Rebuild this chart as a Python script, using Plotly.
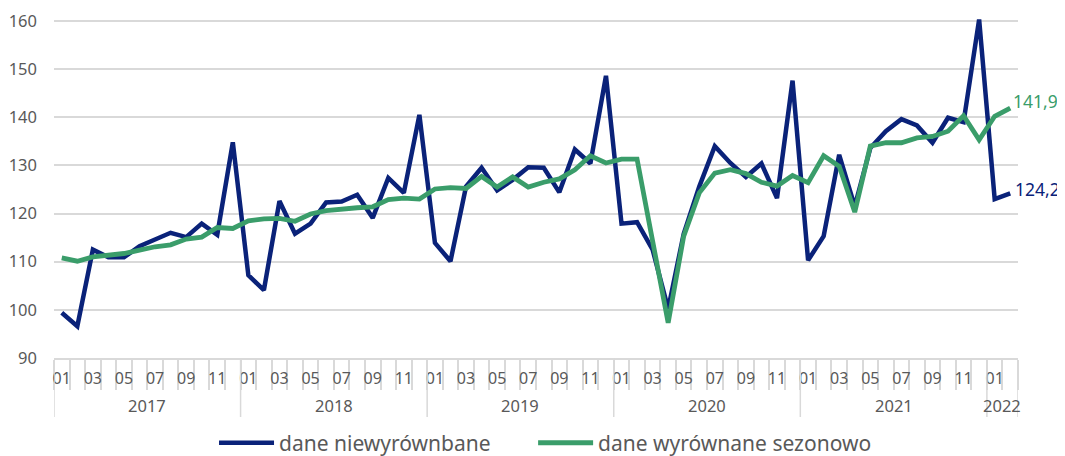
import plotly.graph_objects as go

# ---- data ----
years = [2017, 2018, 2019, 2020, 2021, 2022]
month_labels = ["01", "02", "03", "04", "05", "06", "07", "08", "09", "10", "11", "12"]
months_in_last_year = 2

niewyrownane = [
    99.4, 96.6, 112.5, 110.9, 110.9, 113.2, 114.6, 116.0, 115.1, 117.9, 115.6, 134.8,
    107.2, 104.1, 122.6, 115.8, 117.9, 122.3, 122.5, 123.9, 119.1, 127.4, 124.3, 140.5,
    113.9, 110.1, 125.6, 129.5, 124.8, 127.0, 129.6, 129.5, 124.4, 133.3, 130.4, 148.6,
    117.9, 118.2, 112.5, 100.2, 115.8, 125.6, 134.0, 130.5, 127.6, 130.4, 123.2, 147.6,
    110.3, 115.3, 132.2, 121.5, 133.6, 137.1, 139.6, 138.3, 134.7, 139.9, 139.0, 160.3,
    123.0, 124.2,
]
wyrownane = [
    110.8, 110.1, 111.0, 111.3, 111.7, 112.4, 113.1, 113.5, 114.7, 115.1, 117.1, 116.9,
    118.5, 118.9, 119.0, 118.4, 119.9, 120.6, 121.0, 121.2, 121.4, 122.9, 123.2, 123.0,
    125.1, 125.4, 125.2, 127.7, 125.5, 127.6, 125.5, 126.5, 127.2, 129.1, 132.0, 130.5,
    131.3, 131.3, 114.3, 97.3, 115.3, 124.3, 128.4, 129.1, 128.3, 126.5, 125.7, 127.9,
    126.4, 132.0, 129.8, 120.3, 134.0, 134.7, 134.7, 135.7, 136.0, 137.1, 140.3, 135.3,
    140.2, 141.9,
]
series_names = ["dane niewyrównbane", "dane wyrównane sezonowo"]
y_ticks = [90, 100, 110, 120, 130, 140, 150, 160]

# ---- styles ----
NAVY = "#0a2279"
GREEN = "#3a9d6a"
GRID = "#d9d9d9"
TXT = "#595959"
FONT = "Noto Sans"

# build period lists
period_year = []
period_month = []
for y in years:
    n = 12 if y != years[-1] else months_in_last_year
    for m in month_labels[:n]:
        period_year.append(y)
        period_month.append(m)
idx = list(range(len(period_month)))

fig = go.Figure()
fig.add_trace(go.Scatter(x=idx, y=niewyrownane, mode="lines", name=series_names[0],
                         line=dict(color=NAVY, width=4.5), legend="legend"))
fig.add_trace(go.Scatter(x=idx, y=wyrownane, mode="lines", name=series_names[1],
                         line=dict(color=GREEN, width=4.8), legend="legend2"))

# end labels
def fmt(v):
    return f"{v:.1f}".replace(".", ",")

fig.add_annotation(x=idx[-1], y=wyrownane[-1], text=fmt(wyrownane[-1]), showarrow=False,
                   xanchor="left", yanchor="middle", xshift=1, yshift=7,
                   font=dict(color=GREEN, size=17.5, family=FONT))
fig.add_annotation(x=idx[-1], y=niewyrownane[-1], text=fmt(niewyrownane[-1]), showarrow=False,
                   xanchor="left", yanchor="middle", xshift=3, yshift=4,
                   font=dict(color=NAVY, size=17.5, family=FONT))

# month tick labels (odd months)
tickvals = [i for i, m in zip(idx, period_month) if int(m) % 2 == 1]
ticktext = [period_month[i] for i in tickvals]
boundaries = [i - 0.5 for i in idx] + [idx[-1] + 0.5]

# year separators and labels
year_bounds = []
for y in years:
    first = period_year.index(y)
    last = len(period_year) - 1 - period_year[::-1].index(y)
    year_bounds.append(first - 0.5)
    fig.add_annotation(x=(first + last) / 2, y=-0.139, yref="paper", text=str(y),
                       showarrow=False, yanchor="middle",
                       font=dict(color=TXT, size=16.5, family=FONT))
year_bounds.append(idx[-1] + 0.5)
for b in year_bounds:
    fig.add_shape(type="line", x0=b, x1=b, y0=0, y1=-0.174, xref="x", yref="paper",
                  line=dict(color=GRID, width=1.5))

legend_style = dict(orientation="h", xanchor="left", y=-0.251, yanchor="middle",
                    font=dict(size=21, color=TXT, family=FONT), itemwidth=55,
                    bgcolor="rgba(0,0,0,0)")

# the page body adds an 8px margin, so the figure is 8px smaller than the window
fig.update_layout(
    width=1057, height=448,
    margin=dict(l=46, r=47, t=11, b=98, autoexpand=False),
    paper_bgcolor="white", plot_bgcolor="white",
    font=dict(family=FONT, color=TXT, size=15),
    showlegend=True,
    legend=dict(x=0.166, **legend_style),
    legend2=dict(x=0.497, **legend_style),
    xaxis=dict(range=[-0.5, idx[-1] + 0.5], tickmode="array", tickvals=tickvals,
               ticktext=ticktext, ticks="", showgrid=False, zeroline=False,
               showline=True, linecolor=GRID, linewidth=1.5, automargin=False,
               tickfont=dict(size=16, color=TXT, family=FONT),
               ticklabelstandoff=5,
               minor=dict(tickmode="array", tickvals=boundaries, ticks="outside",
                          ticklen=30, tickcolor=GRID, tickwidth=1.5, showgrid=False)),
    yaxis=dict(range=[90, 160.4], tickmode="array", tickvals=y_ticks,
               showgrid=True, gridcolor=GRID, gridwidth=1.5, zeroline=False,
               showline=False, ticks="", ticklabelstandoff=16, automargin=False,
               tickfont=dict(size=16.5, color=TXT, family=FONT)),
)

fig.write_html("out.html")
